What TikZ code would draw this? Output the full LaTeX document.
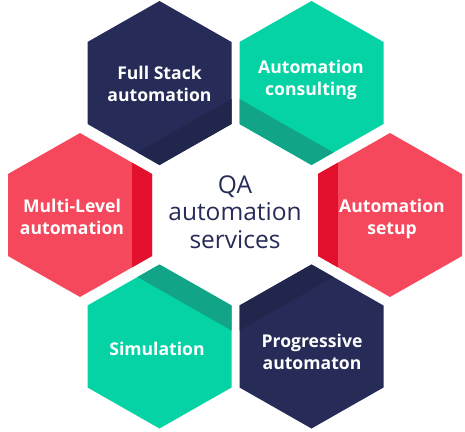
\documentclass[tikz,border=0pt]{standalone}
\usepackage{fontspec}
\setmainfont{Open Sans}
\definecolor{navy}{HTML}{262B57}
\definecolor{navydark}{HTML}{21264D}
\definecolor{mint}{HTML}{05D3A5}
\definecolor{mintdark}{HTML}{12A486}
\definecolor{coral}{HTML}{F5485D}
\definecolor{coraldark}{HTML}{E3102D}
\tikzset{
  hexlabel/.style={text=white, font=\bfseries\fontsize{17.6}{21.5}\selectfont, align=center, inner sep=0pt},
  centerlabel/.style={text=navy, font=\fontsize{24.5}{27.5}\selectfont, align=center, inner sep=0pt},
}
\begin{document}
\begin{tikzpicture}[x=1pt,y=-1pt]
\useasboundingbox (0,0) rectangle (465,431);
% Full Stack automation
\begin{scope}[shift={(159.5,83)}]
  \fill[navy] (0,-82) -- (72,-41) -- (72,41) -- (0,82) -- (-72,41) -- (-72,-41) -- cycle;
  \clip (0,-82) -- (72,-41) -- (72,41) -- (0,82) -- (-72,41) -- (-72,-41) -- cycle;
  \fill[navydark] (100,0.1) -- (100,200) -- (-100,200) -- (-100,113.9) -- cycle;
\end{scope}
% Automation consulting
\begin{scope}[shift={(311.5,83)}]
  \fill[mint] (0,-82) -- (72,-41) -- (72,41) -- (0,82) -- (-72,41) -- (-72,-41) -- cycle;
  \clip (0,-82) -- (72,-41) -- (72,41) -- (0,82) -- (-72,41) -- (-72,-41) -- cycle;
  \fill[mintdark] (-100,0.1) -- (100,113.9) -- (100,200) -- (-100,200) -- cycle;
\end{scope}
% Multi-Level automation
\begin{scope}[shift={(80,215)}]
  \fill[coral] (0,-82) -- (72,-41) -- (72,41) -- (0,82) -- (-72,41) -- (-72,-41) -- cycle;
  \clip (0,-82) -- (72,-41) -- (72,41) -- (0,82) -- (-72,41) -- (-72,-41) -- cycle;
  \fill[coraldark] (52,-100) rectangle (100,100);
\end{scope}
% Automation setup
\begin{scope}[shift={(390,215)}]
  \fill[coral] (0,-82) -- (72,-41) -- (72,41) -- (0,82) -- (-72,41) -- (-72,-41) -- cycle;
  \clip (0,-82) -- (72,-41) -- (72,41) -- (0,82) -- (-72,41) -- (-72,-41) -- cycle;
  \fill[coraldark] (-100,-100) rectangle (-52,100);
\end{scope}
% Simulation
\begin{scope}[shift={(159.5,346.5)}]
  \fill[mint] (0,-82) -- (72,-41) -- (72,41) -- (0,82) -- (-72,41) -- (-72,-41) -- cycle;
  \clip (0,-82) -- (72,-41) -- (72,41) -- (0,82) -- (-72,41) -- (-72,-41) -- cycle;
  \fill[mintdark] (-100,-113.9) -- (100,-0.1) -- (100,-200) -- (-100,-200) -- cycle;
\end{scope}
% Progressive automaton
\begin{scope}[shift={(311.5,346.5)}]
  \fill[navy] (0,-82) -- (72,-41) -- (72,41) -- (0,82) -- (-72,41) -- (-72,-41) -- cycle;
  \clip (0,-82) -- (72,-41) -- (72,41) -- (0,82) -- (-72,41) -- (-72,-41) -- cycle;
  \fill[navydark] (-100,-0.1) -- (100,-113.9) -- (100,-200) -- (-100,-200) -- cycle;
\end{scope}
% labels
\node[hexlabel] (fullstack) at (159.5,84) {Full Stack\\automation};
\node[hexlabel] (consulting) at (311,80) {Automation\\consulting};
\node[hexlabel] (multilevel) at (72,217) {Multi-Level\\automation};
\node[hexlabel] (setup) at (392,219) {Automation\\setup};
\node[hexlabel] (simulation) at (157,349) {Simulation};
\node[hexlabel] (progressive) at (312,352) {Progressive\\automaton};
\node[centerlabel] (center) at (235,212) {QA\\automation\\services};
\end{tikzpicture}
\end{document}
